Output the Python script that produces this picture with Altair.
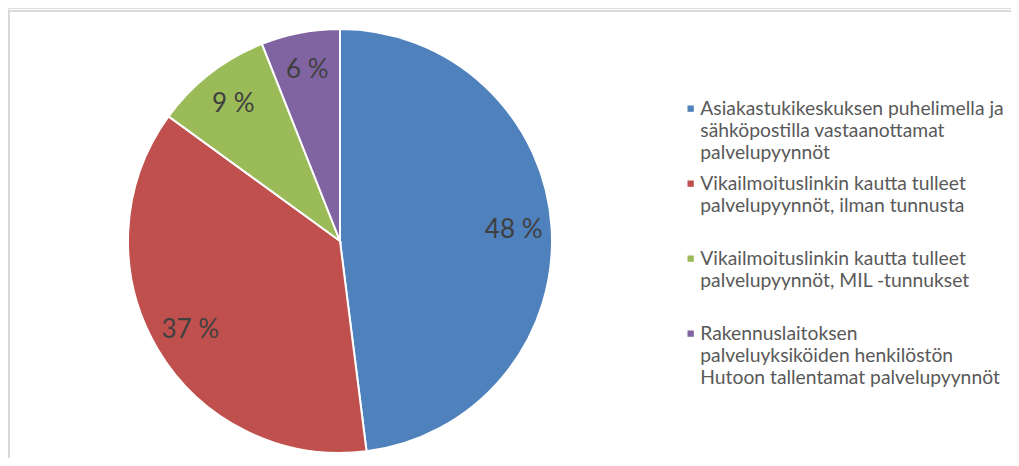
import altair as alt
import pandas as pd

# Data
categories = [
    "Asiakastukikeskuksen puhelimella ja|sähköpostilla vastaanottamat|palvelupyynnöt",
    "Vikailmoituslinkin kautta tulleet|palvelupyynnöt, ilman tunnusta",
    "Vikailmoituslinkin kautta tulleet|palvelupyynnöt, MIL -tunnukset",
    "Rakennuslaitoksen|palveluyksiköiden henkilöstön|Hutoon tallentamat palvelupyynnöt",
]
values = [48, 37, 9, 6]
labels = ["48 %", "37 %", "9 %", "6 %"]
order = [0, 1, 2, 3]

palette = ["#4F81BD", "#C0504D", "#9BBB59", "#8064A2"]

df = pd.DataFrame({"category": categories, "value": values, "label": labels, "idx": order})

W, H = 1003, 450
CX, CY = 332, 233

base = alt.Chart(df).encode(
    theta=alt.Theta("value:Q", stack=True),
    order=alt.Order("idx:Q"),
    x=alt.value(CX),
    y=alt.value(CY),
)

pie = base.mark_arc(outerRadius=212, stroke="white", strokeWidth=2).encode(
    color=alt.Color(
        "category:N",
        scale=alt.Scale(domain=categories, range=palette),
        sort=categories,
        legend=alt.Legend(
            title=None,
            orient="none",
            legendX=673,
            legendY=91,
            labelExpr="split(datum.label, '|')",
            labelFont="Lato",
            labelFontSize=19.3,
            labelColor="#595959",
            labelLimit=0,
            labelBaseline="middle",
            labelOffset=0,
            symbolType="square",
            symbolSize=40,
            symbolStrokeWidth=0,
            gridAlign="all",
            rowPadding=11,
            padding=0,
        ),
    )
)

text = base.mark_text(radius=174, font="Lato", fontSize=26, color="#404040").encode(
    text="label:N"
)

frame_src = pd.DataFrame({"f": [0]})
frame_top = alt.Chart(frame_src).mark_rule(color="#d9d9d9", strokeWidth=2).encode(
    x=alt.value(0), x2=alt.value(W), y=alt.value(3)
)
frame_left = alt.Chart(frame_src).mark_rule(color="#d9d9d9", strokeWidth=2).encode(
    x=alt.value(1), y=alt.value(3), y2=alt.value(H)
)

chart = (
    alt.layer(frame_top, frame_left, pie, text)
    .properties(width=W, height=H, autosize=alt.AutoSizeParams(type="none"), padding=0)
    .configure_view(stroke=None)
    .configure(style={"guide-label": {"lineHeight": 22}})
)

chart.save("out.html", embed_options={"renderer": "svg", "actions": False})
